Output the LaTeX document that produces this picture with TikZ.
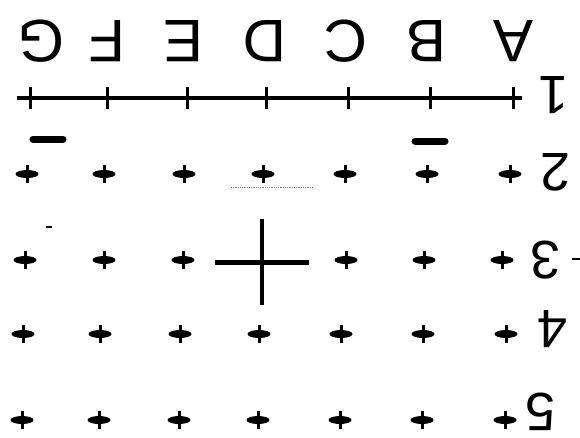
\documentclass[tikz,border=0pt]{standalone}
\usepackage{fontspec}
\setmainfont{Liberation Sans}
\tikzset{
  pluspt/.style={minimum width=24pt,minimum height=18pt,inner sep=0pt,
    path picture={\fill (path picture bounding box.center) ellipse (11.5pt and 4pt);
      \draw[line width=3pt] (path picture bounding box.north) -- (path picture bounding box.south);}},
  crosspt/.style={minimum width=94pt,minimum height=86pt,inner sep=0pt,
    path picture={\draw[line width=5pt] (path picture bounding box.west) -- (path picture bounding box.east);
      \draw[line width=4pt] (path picture bounding box.north) -- (path picture bounding box.south);}},
  tickpt/.style={minimum width=5pt,minimum height=22pt,inner sep=0pt,
    path picture={\draw[line width=3pt] (path picture bounding box.north) -- (path picture bounding box.south);}},
  glyph/.style={rotate=180,inner sep=0pt,font=\fontsize{60}{60}\selectfont},
  digit/.style={glyph,font=\fontsize{54}{54}\selectfont},
  bar/.style={line width=7pt,line cap=round}
}
\begin{document}
\begin{tikzpicture}[x=1pt,y=-1pt]
  \useasboundingbox (0,0) rectangle (580,437);
  % letters and row numbers, upside down
  \foreach \l/\x in {G/41,F/107,E/183,D/265,C/346,B/426,A/513}
    \node[glyph] (\l) at (\x,41) {\l};
  \foreach \n/\x/\y in {1/553/95,2/555/172,3/545/260,4/552/329,5/540/412}
    \node[digit] (n\n) at (\x,\y) {\n};
  % row 1
  \foreach \c/\x in {1/30,2/107,3/187,4/266,5/348,6/430,7/513}
    \node[tickpt] (t\c) at (\x,98) {};
  \draw[line width=4pt,shorten <=-13pt,shorten >=-9pt] (t1.center) -- (t7.center);
  \draw[bar] (33,139) -- (63,139);
  \draw[bar] (415,141) -- (445,141);
  % rows 2 to 5
  \foreach \r/\y/\d in {2/174/-3,4/334/-7,5/420/-8}
    \foreach \c/\x in {1/30,2/107,3/187,4/266,5/348,6/430,7/513}
      \node[pluspt] (p\r\c) at (\x+\d,\y) {};
  \foreach \c/\x in {1/25,2/104,3/183,5/346,6/424,7/502}
    \node[pluspt] (p3\c) at (\x,260) {};
  \node[crosspt] (p34) at (262,262) {};
  \draw[densely dotted,line width=0.8pt,gray] (231,187) -- (313,187);
  \draw[line width=2pt] (46,227) -- (52,227);
  \draw[line width=2.5pt] (572,259) -- (580,259);
\end{tikzpicture}
\end{document}
